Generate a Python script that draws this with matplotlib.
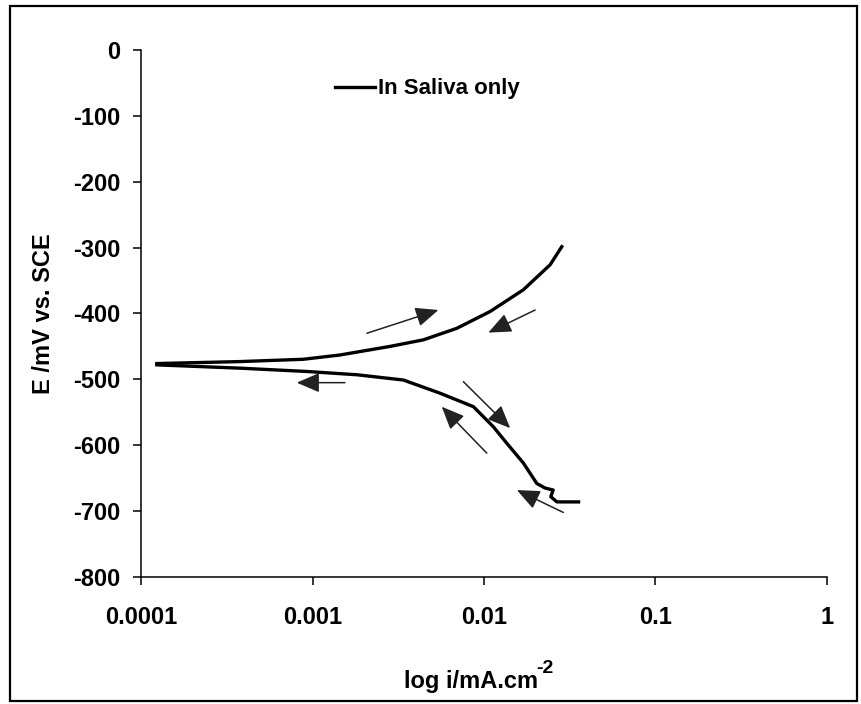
import numpy as np
import matplotlib
matplotlib.use('Agg')
import matplotlib.pyplot as plt
from matplotlib.patches import Rectangle
from matplotlib.ticker import FixedLocator, FixedFormatter

# 字体设置
fam = ['Liberation Sans', 'DejaVu Sans']
plt.rcParams['font.family'] = fam
plt.rcParams['axes.unicode_minus'] = False

# 阳极支 (mA/cm2, mV)
anodic_i = [1.23e-4, 3.76e-4, 8.8e-4, 1.44e-3, 2.82e-3, 4.42e-3, 6.93e-3,
            0.01084, 0.01695, 0.0243, 0.0284]
anodic_E = [-476, -473, -469.5, -463, -450, -440, -422.5,
            -397, -364, -326, -298.6]

# 阴极支
cathodic_i = [1.23e-4, 3.76e-4, 9.2e-4, 1.81e-3, 3.38e-3, 5.53e-3, 8.67e-3,
              0.01133, 0.01357, 0.01695, 0.0203, 0.0227, 0.0253, 0.0245,
              0.0266, 0.0356]
cathodic_E = [-478, -483, -488, -493, -501, -521, -541.5,
              -572, -597, -627, -658, -665, -668, -678,
              -686, -686]

# 箭头 (尾 -> 头)
arrow_tail_i = [2.07e-3, 0.01986, 1.54e-3, 7.57e-3, 0.01037, 0.0290]
arrow_tail_E = [-430, -394.7, -505, -503.5, -612, -702]
arrow_head_i = [5.41e-3, 0.01059, 8.06e-4, 0.0142, 5.66e-3, 0.01553]
arrow_head_E = [-394.7, -429, -505, -574, -541.5, -668]

xticks = [0.0001, 0.001, 0.01, 0.1, 1]
xtick_labels = ['0.0001', '0.001', '0.01', '0.1', '1']
yticks = [0, -100, -200, -300, -400, -500, -600, -700, -800]

fig = plt.figure(figsize=(8.61, 7.04), dpi=100)
ax = fig.add_axes([0.1643, 0.1804, 0.7959, 0.7486])

ax.plot(anodic_i, anodic_E, color='black', lw=2.4, label='In Saliva only',
        solid_joinstyle='round')
ax.plot(cathodic_i, cathodic_E, color='black', lw=2.4, solid_joinstyle='round')

for ti, te, hi, he in zip(arrow_tail_i, arrow_tail_E, arrow_head_i, arrow_head_E):
    ax.annotate('', xy=(hi, he), xytext=(ti, te),
                arrowprops=dict(arrowstyle='-|>,head_length=0.7,head_width=0.3',
                                mutation_scale=20, lw=1.1, color='#222222',
                                shrinkA=0, shrinkB=0))

ax.set_xscale('log')
ax.set_xlim(0.0001, 1)
ax.set_ylim(-800, 0)
ax.xaxis.set_major_locator(FixedLocator(xticks))
ax.xaxis.set_major_formatter(FixedFormatter(xtick_labels))
ax.xaxis.set_minor_locator(FixedLocator([]))
ax.set_yticks(yticks)

for s in ['top', 'right']:
    ax.spines[s].set_visible(False)
for s in ['left', 'bottom']:
    ax.spines[s].set_linewidth(1.1)

ax.tick_params(axis='both', direction='out', length=6, width=1.1,
               labelsize=17)
ax.tick_params(axis='x', pad=15)
ax.tick_params(axis='y', pad=9)
for lab in ax.get_xticklabels() + ax.get_yticklabels():
    lab.set_fontweight('bold')

leg = ax.legend(loc='center left', bbox_to_anchor=(0.282, 0.926),
                frameon=False, borderpad=0, borderaxespad=0,
                handlelength=1.8, handletextpad=0.15,
                prop={'family': fam, 'weight': 'bold', 'size': 16})

fig.text(44 / 861, 1 - 314 / 704, 'E /mV vs. SCE', rotation=90,
         ha='center', va='center', fontsize=17, fontweight='bold')
# x轴标题 + 上标
fig.text(538 / 861, 16 / 704, 'log i/mA.cm',
         ha='right', va='baseline', fontsize=17, fontweight='bold')
fig.text(536 / 861, 31 / 704, '-2',
         ha='left', va='baseline', fontsize=14, fontweight='bold')

fig.patches.append(Rectangle((10 / 861, 3 / 704), 847 / 861, 695 / 704,
                             transform=fig.transFigure, fill=False,
                             edgecolor='black', lw=1.6))

fig.savefig('out.png', dpi=100)
